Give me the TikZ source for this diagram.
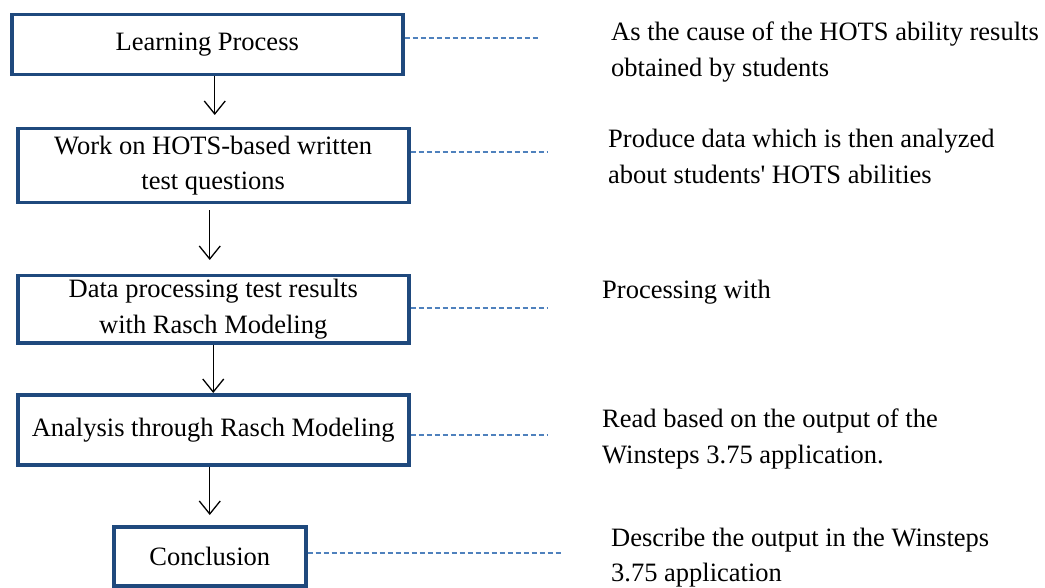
\documentclass[tikz,border=0pt]{standalone}
\usepackage{fontspec}
\setmainfont{Liberation Serif}
\usepackage{tikz}
\usetikzlibrary{positioning,arrows.meta}
\definecolor{frame}{HTML}{1F497D}
\definecolor{link}{HTML}{4F81BD}

\begin{document}
\begin{tikzpicture}[
      x=1pt, y=-1pt,
      font=\fontsize{26.5}{35.5}\selectfont,
      stage/.style={draw=frame, line width=3.5pt, inner sep=2pt,
                    minimum width=391pt, align=center, anchor=north west},
      note/.style={anchor=north west, inner sep=0pt, align=left},
      flow/.style={-{Straight Barb[length=13pt,width=21pt]}, line width=1.3pt},
      dots/.style={draw=link, line width=1.5pt, dash pattern=on 5.5pt off 2.5pt}
    ]
    \useasboundingbox (0,0) rectangle (1045,588);

    % stages
    \node[stage, minimum height=60pt] (learn) at (10,13) {Learning Process};
    \node[stage, minimum height=74pt] (work) at (16,127)
      {Work on HOTS-based written\\test questions};
    \node[stage, minimum height=67pt] (data) at (16,274)
      {Data processing test results\\with Rasch Modeling};
    \node[stage, minimum height=70pt] (rasch) at (16,393)
      {Analysis through Rasch Modeling};
    \node[stage, minimum height=59pt, minimum width=192pt] (concl) at (112,525)
      {Conclusion};

    % notes
    \node[note] (n1) at (611,22)
      {As the cause of the HOTS ability results\\obtained by students};
    \node[note] (n2) at (608,129)
      {Produce data which is then analyzed\\about students\textquotesingle{} HOTS abilities};
    \node[note] (n3) at (602,280) {Processing with};
    \node[note] (n4) at (602,409)
      {Read based on the output of the\\Winsteps 3.75 application.};
    \node[note, font=\fontsize{26.5}{35}\selectfont] (n5) at (611,528)
      {Describe the output in the Winsteps\\3.75 application};

    \coordinate (e1) at (540,38);
    \coordinate (e2) at (547,152);
    \coordinate (e3) at (547,308);
    \coordinate (e4) at (547,435);
    \coordinate (e5) at (563,553);

    \draw[flow, shorten >=12pt] ([xshift=7.5pt]learn.south) -- ([xshift=7.5pt]learn.south |- work.north);
    \draw[flow, shorten <=6pt, shorten >=14pt] ([xshift=-3.5pt]work.south) -- ([xshift=-3.5pt]work.south |- data.north);
    \draw[flow] (data) -- (rasch);
    \draw[flow, shorten >=10pt] ([xshift=-3.5pt]rasch.south) -- (concl.north);

    \draw[dots] (learn.east |- e1) -- (e1);
    \draw[dots] (work.east |- e2) -- (e2);
    \draw[dots] (data.east |- e3) -- (e3);
    \draw[dots] (rasch.east |- e4) -- (e4);
    \draw[dots] (concl.east |- e5) -- (e5);

  \end{tikzpicture}
\end{document}
